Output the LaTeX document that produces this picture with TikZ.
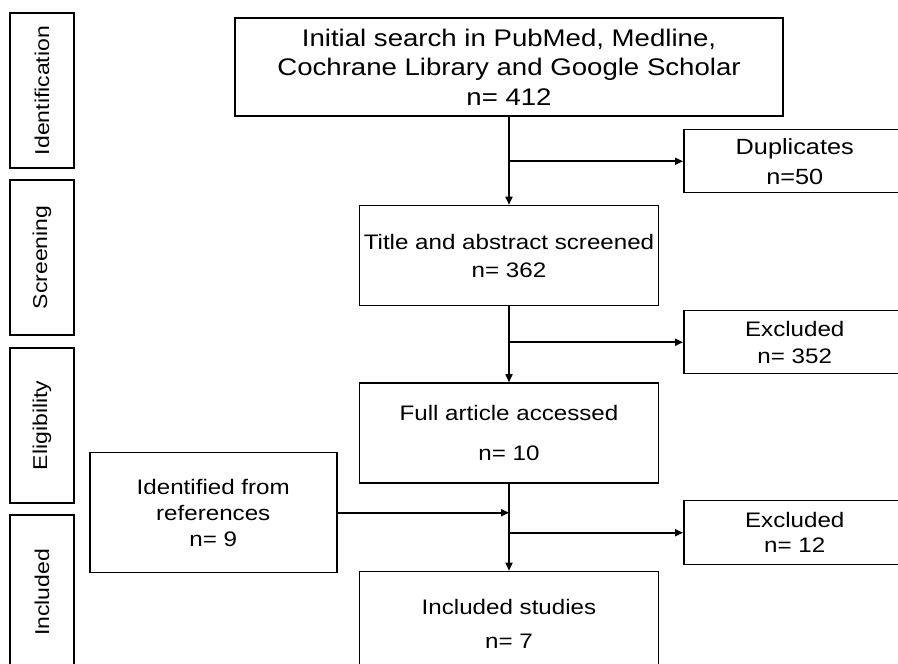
\documentclass[tikz,border=0pt]{standalone}
\usepackage{fontspec}
\setmainfont{Liberation Sans}[FakeStretch=1.15]
\usetikzlibrary{arrows.meta,positioning}
\tikzset{
  box/.style={draw=black,line width=1.5pt,minimum width=299pt,minimum height=100pt,
    align=center,inner sep=0pt,font=\fontsize{21}{28}\selectfont},
  sidebox/.style={draw=black,line width=1.5pt,anchor=north west,minimum width=222pt,
    minimum height=63pt,align=center,inner sep=0pt,font=\fontsize{21}{27}\selectfont},
  stage/.style={draw=black,line width=1.5pt,rotate=90,minimum width=155pt,
    minimum height=64pt,inner sep=0pt,font=\fontsize{20}{24}\selectfont},
  arrow/.style={-{Triangle[length=8pt,width=7pt]},draw=black,line width=1.6pt}
}
\begin{document}
\begin{tikzpicture}[x=1pt,y=1pt]
        \useasboundingbox[fill=white] (0,0) rectangle (898,664);
        % stages
        \node[stage] (ident) at (42,573.5) {Identification};
        \node[stage] (screen) at (42,406.5) {Screening};
        \node[stage] (elig) at (42,238.5) {Eligibility};
        \node[stage] (inclst) at (42,71.5) {Included};
        % main column
        \node[box,minimum width=548pt,minimum height=98pt,font=\fontsize{24}{29.5}\selectfont]
          (init) at (509,597) {Initial search in PubMed, Medline,\\
          Cochrane Library and Google Scholar\\ n= 412};
        \node[box,below=88pt of init] (title) {Title and abstract screened\\ n= 362};
        \node[box,below=76pt of title] (full) {Full article accessed\\[12pt] n= 10};
        \node[box,minimum height=105pt,below=87pt of full] (incl) {Included studies\\[6pt] n= 7};
        % side boxes
        \node[sidebox,font=\fontsize{22}{30}\selectfont] (dup) at (683,535) {Duplicates\\ n=50};
        \node[sidebox] (excla) at (683,354) {Excluded\\ n= 352};
        \node[sidebox,minimum height=64pt,font=\fontsize{21}{25}\selectfont] (exclb) at (683,164) {Excluded\\ n= 12};
        \node[sidebox,minimum width=247pt,minimum height=120pt,font=\fontsize{21}{26}\selectfont]
          (refs) at (89,212) {Identified from\\ references\\ n= 9};
        % connectors
        \draw[arrow] (init)--(title); \draw[arrow] (dup.west -| init.south)--(dup);
        \draw[arrow] (title)--(full); \draw[arrow] (excla.west -| title.south)--(excla);
        \draw[arrow] (full)--(incl); \draw[arrow] (exclb.west -| full.south)--(exclb);
        \draw[arrow] (refs.east)--(refs.east -| full.south);
      \end{tikzpicture}
\end{document}
